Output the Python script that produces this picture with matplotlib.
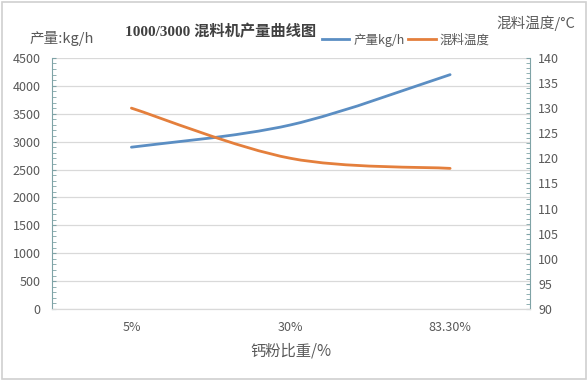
import matplotlib
matplotlib.use("Agg")
import matplotlib.pyplot as plt
from matplotlib.path import Path
from matplotlib.patches import PathPatch, Rectangle
from matplotlib.lines import Line2D
from matplotlib.ticker import MultipleLocator

plt.rcParams['font.family'] = ['Noto Sans CJK SC', 'DejaVu Sans']

# data
categories = ['5%', '30%', '83.30%']
output_kg_h = [2900, 3300, 4200]
mix_temp = [130, 120, 118]

BLUE = '#5B8EC3'
ORANGE = '#E47F3C'
SPINE = '#7FA3A6'
GRID = '#D9D9D9'
TEXT = '#595959'


def smooth_path(xs, ys):
    """Excel-style smoothed line as cubic bezier path through the points."""
    n = len(xs)
    pts = list(zip(xs, ys))
    verts = [pts[0]]
    codes = [Path.MOVETO]
    for i in range(n - 1):
        p0 = pts[max(i - 1, 0)]
        p1 = pts[i]
        p2 = pts[i + 1]
        p3 = pts[min(i + 2, n - 1)]
        c1 = (p1[0] + (p2[0] - p0[0]) / 6, p1[1] + (p2[1] - p0[1]) / 6)
        c2 = (p2[0] - (p3[0] - p1[0]) / 6, p2[1] - (p3[1] - p1[1]) / 6)
        verts += [c1, c2, p2]
        codes += [Path.CURVE4] * 3
    return Path(verts, codes)


fig = plt.figure(figsize=(5.88, 3.81), dpi=100)
fig.patches.append(Rectangle((0.003, 0.004), 0.994, 0.992, transform=fig.transFigure,
                             fill=False, edgecolor='#D0D0D0', linewidth=1.2))
ax = fig.add_axes([0.088, 0.189, 0.813, 0.659])
ax2 = ax.twinx()

x = list(range(len(categories)))
ax.add_patch(PathPatch(smooth_path(x, output_kg_h), facecolor='none', edgecolor=BLUE,
                       linewidth=2.0, capstyle='round', zorder=3))
ax2.add_patch(PathPatch(smooth_path(x, mix_temp), facecolor='none', edgecolor=ORANGE,
                        linewidth=2.0, capstyle='round', zorder=3))

ax.set_xlim(-0.5, len(categories) - 0.5)
ax.set_ylim(0, 4500)
ax2.set_ylim(90, 140)
ax.yaxis.set_major_locator(MultipleLocator(500))
ax.yaxis.set_minor_locator(MultipleLocator(100))
ax2.yaxis.set_major_locator(MultipleLocator(5))
ax2.yaxis.set_minor_locator(MultipleLocator(1))

ax.set_xticks(x)
ax.set_xticklabels(categories)
ax.grid(axis='y', color=GRID, linewidth=0.9)
ax.set_axisbelow(True)

for a in (ax, ax2):
    a.spines['top'].set_visible(False)
    a.spines['bottom'].set_color(GRID)
    a.spines['left'].set_color(SPINE)
    a.spines['right'].set_color(SPINE)
ax2.spines['left'].set_visible(False)
ax.spines['right'].set_visible(False)

ax.tick_params(axis='x', length=0, labelsize=9, labelcolor=TEXT, pad=9)
ax.tick_params(axis='y', which='both', direction='in', length=3, color=SPINE,
               labelsize=9, labelcolor=TEXT, pad=8)
ax2.tick_params(axis='y', which='both', direction='in', length=3, color=SPINE,
                labelsize=9, labelcolor=TEXT, pad=6)

ax.set_xlabel('钙粉比重/%', fontsize=11, color=TEXT, labelpad=6)

fig.text(0.05, 0.9, '产量:kg/h', fontsize=10.5, color=TEXT, ha='left', va='center')
fig.text(0.845, 0.94, '混料温度/°C', fontsize=10.5, color=TEXT, ha='left', va='center')
fig.text(0.375, 0.918, '1000/3000 混料机产量曲线图', fontsize=11, fontweight='bold',
         color='#404040', ha='center', va='center',
         family=['Liberation Serif', 'Noto Sans CJK SC'])

handles = [Line2D([], [], color=BLUE, linewidth=2.0),
           Line2D([], [], color=ORANGE, linewidth=2.0)]
fig.legend(handles, ['产量kg/h', '混料温度'], loc='center', bbox_to_anchor=(0.69, 0.895),
           ncol=2, frameon=False, fontsize=9, handlelength=2.2, handletextpad=0.3,
           columnspacing=0.3, labelcolor=TEXT)

fig.savefig('out.png', dpi=100)
